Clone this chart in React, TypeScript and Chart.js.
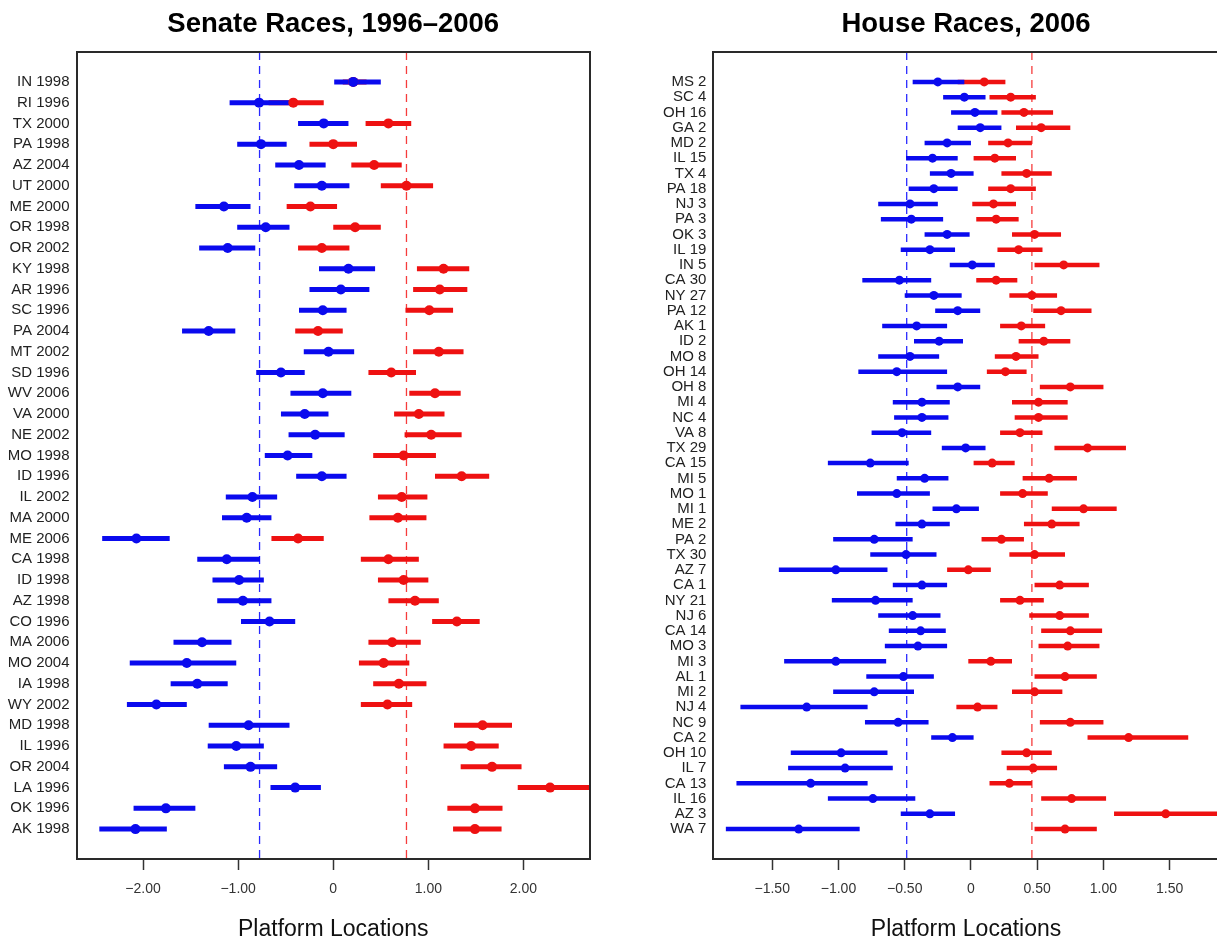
import React, { useEffect, useRef } from 'react';
import { Chart, registerables } from 'chart.js';

Chart.register(...registerables);

const FONT = "'Liberation Sans', Arial, Helvetica, sans-serif";
const BLUE = '#0a0aee';
const RED = '#ee1111';
const BORDER = '#2a2a2a';

// ---------------- Senate data ----------------
const senateLabels = ['IN 1998', 'RI 1996', 'TX 2000', 'PA 1998', 'AZ 2004', 'UT 2000', 'ME 2000', 'OR 1998', 'OR 2002', 'KY 1998', 'AR 1996', 'SC 1996', 'PA 2004', 'MT 2002', 'SD 1996', 'WV 2006', 'VA 2000', 'NE 2002', 'MO 1998', 'ID 1996', 'IL 2002', 'MA 2000', 'ME 2006', 'CA 1998', 'ID 1998', 'AZ 1998', 'CO 1996', 'MA 2006', 'MO 2004', 'IA 1998', 'WY 2002', 'MD 1998', 'IL 1996', 'OR 2004', 'LA 1996', 'OK 1996', 'AK 1998'];
const senateDemLo = [0.01, -1.09, -0.37, -1.01, -0.61, -0.41, -1.45, -1.01, -1.41, -0.15, -0.25, -0.36, -1.59, -0.31, -0.81, -0.45, -0.55, -0.47, -0.72, -0.39, -1.13, -1.17, -2.43, -1.43, -1.27, -1.22, -0.97, -1.68, -2.14, -1.71, -2.17, -1.31, -1.32, -1.15, -0.66, -2.10, -2.46];
const senateDemEst = [0.21, -0.78, -0.10, -0.76, -0.36, -0.12, -1.15, -0.71, -1.11, 0.16, 0.08, -0.11, -1.31, -0.05, -0.55, -0.11, -0.30, -0.19, -0.48, -0.12, -0.85, -0.91, -2.07, -1.12, -0.99, -0.95, -0.67, -1.38, -1.54, -1.43, -1.86, -0.89, -1.02, -0.87, -0.40, -1.76, -2.08];
const senateDemHi = [0.50, -0.45, 0.16, -0.49, -0.08, 0.17, -0.87, -0.46, -0.82, 0.44, 0.38, 0.14, -1.03, 0.22, -0.30, 0.19, -0.05, 0.12, -0.22, 0.14, -0.59, -0.65, -1.72, -0.77, -0.73, -0.65, -0.40, -1.07, -1.02, -1.11, -1.54, -0.46, -0.73, -0.59, -0.13, -1.45, -1.75];
const senateRepLo = [0.10, -0.68, 0.34, -0.25, 0.19, 0.50, -0.49, 0.00, -0.37, 0.88, 0.84, 0.76, -0.40, 0.84, 0.37, 0.80, 0.64, 0.75, 0.42, 1.07, 0.47, 0.38, -0.65, 0.29, 0.47, 0.58, 1.04, 0.37, 0.27, 0.42, 0.29, 1.27, 1.16, 1.34, 1.94, 1.20, 1.26];
const senateRepEst = [0.21, -0.42, 0.58, 0.00, 0.43, 0.77, -0.24, 0.23, -0.12, 1.16, 1.12, 1.01, -0.16, 1.11, 0.61, 1.07, 0.90, 1.03, 0.74, 1.35, 0.72, 0.68, -0.37, 0.58, 0.74, 0.86, 1.30, 0.62, 0.53, 0.69, 0.57, 1.57, 1.45, 1.67, 2.28, 1.49, 1.49];
const senateRepHi = [0.35, -0.10, 0.82, 0.25, 0.72, 1.05, 0.04, 0.50, 0.17, 1.43, 1.41, 1.26, 0.10, 1.37, 0.87, 1.34, 1.17, 1.35, 1.08, 1.64, 0.99, 0.98, -0.10, 0.90, 1.00, 1.11, 1.54, 0.92, 0.80, 0.98, 0.83, 1.88, 1.74, 1.98, 2.75, 1.78, 1.77];
const senateDemMean = -0.775;
const senateRepMean = 0.77;
const senateTicks = [-2, -1, 0, 1, 2];
const senateXMin = -2.7;
const senateXMax = 2.7;

// ---------------- House data ----------------
const houseLabels = ['MS 2', 'SC 4', 'OH 16', 'GA 2', 'MD 2', 'IL 15', 'TX 4', 'PA 18', 'NJ 3', 'PA 3', 'OK 3', 'IL 19', 'IN 5', 'CA 30', 'NY 27', 'PA 12', 'AK 1', 'ID 2', 'MO 8', 'OH 14', 'OH 8', 'MI 4', 'NC 4', 'VA 8', 'TX 29', 'CA 15', 'MI 5', 'MO 1', 'MI 1', 'ME 2', 'PA 2', 'TX 30', 'AZ 7', 'CA 1', 'NY 21', 'NJ 6', 'CA 14', 'MO 3', 'MI 3', 'AL 1', 'MI 2', 'NJ 4', 'NC 9', 'CA 2', 'OH 10', 'IL 7', 'CA 13', 'IL 16', 'AZ 3', 'WA 7'];
const houseDemLo = [-0.44, -0.21, -0.15, -0.10, -0.35, -0.49, -0.31, -0.47, -0.70, -0.68, -0.35, -0.53, -0.16, -0.82, -0.50, -0.27, -0.67, -0.43, -0.70, -0.85, -0.26, -0.59, -0.58, -0.75, -0.22, -1.08, -0.56, -0.86, -0.29, -0.57, -1.04, -0.76, -1.45, -0.59, -1.05, -0.70, -0.62, -0.65, -1.41, -0.79, -1.04, -1.74, -0.80, -0.30, -1.36, -1.38, -1.77, -1.08, -0.53, -1.85];
const houseDemEst = [-0.25, -0.05, 0.03, 0.07, -0.18, -0.29, -0.15, -0.28, -0.46, -0.45, -0.18, -0.31, 0.01, -0.54, -0.28, -0.10, -0.41, -0.24, -0.46, -0.56, -0.10, -0.37, -0.37, -0.52, -0.04, -0.76, -0.35, -0.56, -0.11, -0.37, -0.73, -0.49, -1.02, -0.37, -0.72, -0.44, -0.38, -0.40, -1.02, -0.51, -0.73, -1.24, -0.55, -0.14, -0.98, -0.95, -1.21, -0.74, -0.31, -1.30];
const houseDemHi = [-0.05, 0.11, 0.20, 0.23, 0.00, -0.10, 0.02, -0.10, -0.25, -0.21, -0.01, -0.12, 0.18, -0.30, -0.07, 0.07, -0.18, -0.06, -0.24, -0.18, 0.07, -0.16, -0.17, -0.30, 0.11, -0.47, -0.17, -0.31, 0.06, -0.16, -0.44, -0.26, -0.63, -0.18, -0.44, -0.23, -0.19, -0.18, -0.64, -0.28, -0.43, -0.78, -0.32, 0.02, -0.63, -0.59, -0.78, -0.42, -0.12, -0.84];
const houseRepLo = [-0.10, 0.14, 0.23, 0.34, 0.13, 0.02, 0.23, 0.13, 0.01, 0.04, 0.31, 0.20, 0.48, 0.04, 0.29, 0.47, 0.22, 0.36, 0.18, 0.12, 0.52, 0.31, 0.33, 0.22, 0.63, 0.02, 0.39, 0.22, 0.61, 0.40, 0.08, 0.29, -0.18, 0.48, 0.22, 0.44, 0.53, 0.51, -0.02, 0.48, 0.31, -0.11, 0.52, 0.88, 0.23, 0.27, 0.14, 0.53, 1.08, 0.48];
const houseRepEst = [0.10, 0.30, 0.40, 0.53, 0.28, 0.18, 0.42, 0.30, 0.17, 0.19, 0.48, 0.36, 0.70, 0.19, 0.46, 0.68, 0.38, 0.55, 0.34, 0.26, 0.75, 0.51, 0.51, 0.37, 0.88, 0.16, 0.59, 0.39, 0.85, 0.61, 0.23, 0.48, -0.02, 0.67, 0.37, 0.67, 0.75, 0.73, 0.15, 0.71, 0.48, 0.05, 0.75, 1.19, 0.42, 0.47, 0.29, 0.76, 1.47, 0.71];
const houseRepHi = [0.26, 0.49, 0.62, 0.75, 0.46, 0.34, 0.61, 0.49, 0.34, 0.36, 0.68, 0.54, 0.97, 0.35, 0.65, 0.91, 0.56, 0.75, 0.51, 0.42, 1.00, 0.73, 0.73, 0.54, 1.17, 0.33, 0.80, 0.58, 1.10, 0.82, 0.40, 0.71, 0.15, 0.89, 0.55, 0.89, 0.99, 0.97, 0.31, 0.95, 0.69, 0.20, 1.00, 1.64, 0.61, 0.65, 0.46, 1.02, 1.90, 0.95];
const houseDemMean = -0.485;
const houseRepMean = 0.46;
const houseTicks = [-1.5, -1, -0.5, 0, 0.5, 1, 1.5];
const houseXMin = -1.944;
const houseXMax = 1.87;

// ---------------- helpers ----------------
function rowRange(n: number): [number, number] {
  const pad = 0.04 * (n - 1);
  return [1 - pad, n + pad];
}

function segmentData(lo: number[], hi: number[]) {
  const pts: { x: number; y: number | null }[] = [];
  lo.forEach((l, i) => {
    pts.push({ x: l, y: i + 1 });
    pts.push({ x: hi[i], y: i + 1 });
    pts.push({ x: hi[i], y: null });
  });
  return pts;
}

function pointData(est: number[]) {
  return est.map((v, i) => ({ x: v, y: i + 1 }));
}

function fmtTick(v: number) {
  if (Math.abs(v) < 1e-9) return '0';
  return v < 0 ? '\u2212' + Math.abs(v).toFixed(2) : v.toFixed(2);
}

interface PanelSpec {
  title: string;
  labels: string[];
  demLo: number[];
  demEst: number[];
  demHi: number[];
  repLo: number[];
  repEst: number[];
  repHi: number[];
  demMean: number;
  repMean: number;
  ticks: number[];
  xMin: number;
  xMax: number;
  yAxisWidth: number;
  padRight: number;
  pointRadius: number;
  lineWidth: number;
}

function buildConfig(p: PanelSpec): any {
  const n = p.labels.length;
  const [yMin, yMax] = rowRange(n);
  const lineDs = (data: any[], color: string) => ({
    data,
    borderColor: color,
    backgroundColor: color,
    borderWidth: p.lineWidth,
    borderCapStyle: 'butt',
    pointRadius: 0,
    pointHoverRadius: 0,
    showLine: true,
    spanGaps: false,
    clip: 0,
  });
  const ptDs = (data: any[], color: string) => ({
    data,
    showLine: false,
    pointRadius: p.pointRadius,
    pointHoverRadius: p.pointRadius,
    pointBackgroundColor: color,
    pointBorderColor: color,
    pointBorderWidth: 0,
    borderColor: color,
    clip: 0,
  });
  const dashDs = (x: number, color: string) => ({
    data: [{ x, y: yMin }, { x, y: yMax }],
    borderColor: color,
    borderWidth: 1.3,
    borderDash: [8, 6],
    pointRadius: 0,
    pointHoverRadius: 0,
    clip: 0,
  });
  const border = { display: true, color: BORDER, width: 2, z: 1 };
  return {
    type: 'line',
    data: {
      datasets: [
        ptDs(pointData(p.demEst), BLUE),
        ptDs(pointData(p.repEst), RED),
        lineDs(segmentData(p.demLo, p.demHi), BLUE),
        lineDs(segmentData(p.repLo, p.repHi), RED),
        dashDs(p.demMean, 'rgba(30,30,255,0.95)'),
        dashDs(p.repMean, 'rgba(245,50,50,0.95)'),
      ],
    },
    options: {
      responsive: false,
      maintainAspectRatio: false,
      animation: false,
      events: [],
      layout: { padding: { left: 0, right: p.padRight, top: 0, bottom: 0 } },
      plugins: {
        legend: { display: false },
        tooltip: { enabled: false },
        title: { display: false },
      },
      scales: {
        x: {
          type: 'linear',
          position: 'bottom',
          min: p.xMin,
          max: p.xMax,
          afterFit: (s: any) => {
            s.height = 83;
          },
          afterBuildTicks: (s: any) => {
            s.ticks = p.ticks.map((v) => ({ value: v }));
          },
          ticks: {
            autoSkip: false,
            maxRotation: 0,
            font: { family: FONT, size: 14, lineHeight: 1.2 },
            color: '#333',
            padding: 10.5,
            callback: (v: number) => fmtTick(v),
          },
          grid: {
            display: true,
            drawOnChartArea: false,
            drawTicks: true,
            tickLength: 11,
            tickColor: '#333',
            tickWidth: 1.5,
          },
          border,
          title: {
            display: true,
            text: 'Platform Locations',
            font: { family: FONT, size: 23, lineHeight: 1 },
            color: '#111',
            padding: { top: 0, bottom: 1 },
          },
        },
        xTop: {
          type: 'linear',
          position: 'top',
          min: p.xMin,
          max: p.xMax,
          afterFit: (s: any) => {
            s.height = 52;
          },
          ticks: { display: false },
          grid: { display: false, drawTicks: false },
          border,
          title: {
            display: true,
            text: p.title,
            font: { family: FONT, size: 27.5, weight: 'bold', lineHeight: 1 },
            color: '#000',
            padding: { top: 11, bottom: 0 },
          },
        },
        y: {
          type: 'linear',
          position: 'left',
          reverse: true,
          min: yMin,
          max: yMax,
          afterFit: (s: any) => {
            s.width = p.yAxisWidth;
          },
          afterBuildTicks: (s: any) => {
            s.ticks = p.labels.map((_, i) => ({ value: i + 1 }));
          },
          ticks: {
            autoSkip: false,
            font: { family: FONT, size: 15 },
            color: '#222',
            padding: 7,
            callback: (_v: number, i: number) => p.labels[i],
          },
          grid: { display: false, drawTicks: false },
          border,
        },
        yRight: {
          type: 'linear',
          position: 'right',
          reverse: true,
          min: yMin,
          max: yMax,
          afterFit: (s: any) => {
            s.width = 0;
          },
          ticks: { display: false },
          grid: { display: false, drawTicks: false },
          border,
        },
      },
    },
  };
}

function Panel({ spec, left, width }: { spec: PanelSpec; left: number; width: number }) {
  const ref = useRef<HTMLCanvasElement | null>(null);
  useEffect(() => {
    if (!ref.current) return;
    const chart = new Chart(ref.current, buildConfig(spec));
    return () => chart.destroy();
  }, []);
  return (
    <canvas
      ref={ref}
      width={width}
      height={942}
      style={{ position: 'absolute', left, top: 0, width, height: 942 }}
    />
  );
}

const senateSpec: PanelSpec = {
  title: 'Senate Races, 1996\u20132006',
  labels: senateLabels,
  demLo: senateDemLo,
  demEst: senateDemEst,
  demHi: senateDemHi,
  repLo: senateRepLo,
  repEst: senateRepEst,
  repHi: senateRepHi,
  demMean: senateDemMean,
  repMean: senateRepMean,
  ticks: senateTicks,
  xMin: senateXMin,
  xMax: senateXMax,
  yAxisWidth: 76.5,
  padRight: 10,
  pointRadius: 5,
  lineWidth: 5,
};

const houseSpec: PanelSpec = {
  title: 'House Races, 2006',
  labels: houseLabels,
  demLo: houseDemLo,
  demEst: houseDemEst,
  demHi: houseDemHi,
  repLo: houseRepLo,
  repEst: houseRepEst,
  repHi: houseRepHi,
  demMean: houseDemMean,
  repMean: houseRepMean,
  ticks: houseTicks,
  xMin: houseXMin,
  xMax: houseXMax,
  yAxisWidth: 93.4,
  padRight: 21.3,
  pointRadius: 4.5,
  lineWidth: 4.5,
};

export default function App() {
  return (
    <div
      style={{
        position: 'fixed',
        left: 0,
        top: 0,
        width: 1217,
        height: 942,
        overflow: 'hidden',
        background: '#ffffff',
      }}
    >
      <Panel spec={senateSpec} left={0} width={600} />
      <Panel spec={houseSpec} left={620} width={620} />
    </div>
  );
}
